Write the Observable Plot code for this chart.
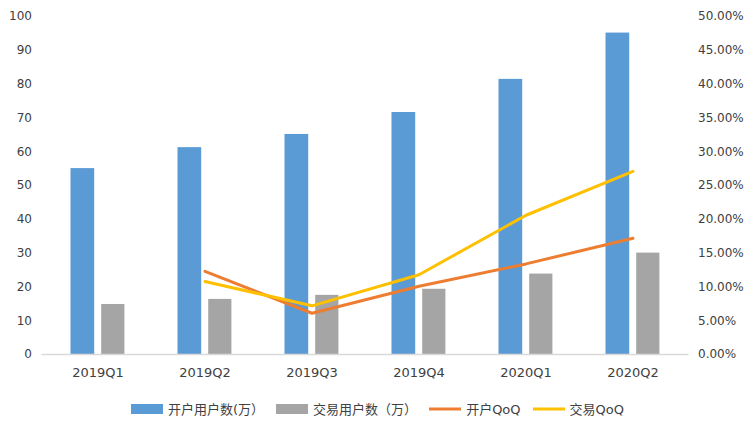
<!DOCTYPE html>
<html><head><meta charset="utf-8">
<script src="https://cdn.jsdelivr.net/npm/d3@7"></script>
<script src="https://cdn.jsdelivr.net/npm/@observablehq/plot@0.6"></script>
<style>
body{margin:0;background:#fff;font-family:"DejaVu Sans","Noto Sans CJK SC",sans-serif;}
#wrap{position:relative;width:755px;height:425px;}
#legend{position:absolute;left:0;top:399px;width:755px;display:flex;justify-content:center;align-items:center;gap:12px;font-size:13px;color:#404040;}
.it{display:flex;align-items:center;gap:5px;}
</style></head>
<body><div id="wrap"><div id="chart"></div><div id="legend"></div></div>
<script>
const quarters = ["2019Q1","2019Q2","2019Q3","2019Q4","2020Q1","2020Q2"];
const openUsers = [55, 61.2, 65.1, 71.6, 81.4, 95.1];
const tradeUsers = [14.8, 16.3, 17.5, 19.3, 23.8, 30];
const openQoQ = [null, 12.3, 6.1, 10.1, 13.4, 17.2];
const tradeQoQ = [null, 10.8, 7.2, 11.8, 20.6, 27.1];
const leftTicks = [0,10,20,30,40,50,60,70,80,90,100];
const seriesNames = ["开户用户数(万）","交易用户数（万）","开户QoQ","交易QoQ"];
const colors = ["#5b9bd5","#a5a5a5","#ed7d31","#ffc000"];

const rows = quarters.map((q,i)=>({q, open:openUsers[i], trade:tradeUsers[i], oq:openQoQ[i], tq:tradeQoQ[i]}));
const qoqRows = rows.filter(d=>d.oq!=null);

const chart = Plot.plot({
  width:755, height:385,
  marginLeft:41.5, marginRight:66.5, marginTop:16, marginBottom:31,
  x:{domain:quarters, padding:0, label:null},
  y:{domain:[0,100], label:null},
  style:{fontFamily:'"DejaVu Sans","Noto Sans CJK SC",sans-serif', fontSize:"12px", color:"#404040", background:"#fff"},
  marks:[
    Plot.barY(rows,{x:"q", y:"open", fill:colors[0], insetLeft:26.5, insetRight:56.8}),
    Plot.barY(rows,{x:"q", y:"trade", fill:colors[1], insetLeft:57.2, insetRight:26.6}),
    Plot.ruleY([0],{stroke:"#d9d9d9", strokeWidth:1.5}),
    Plot.axisY({ticks:leftTicks, tickSize:0, tickPadding:10, label:null}),
    Plot.axisY({anchor:"right", ticks:leftTicks, tickFormat:d=>(d/2).toFixed(2)+"%", tickSize:0, tickPadding:9, textAnchor:"start", label:null}),
    Plot.axisX({tickSize:0, tickPadding:13, fontSize:13, label:null}),
    Plot.lineY(qoqRows,{x:"q", y:d=>d.oq*2, stroke:colors[2], strokeWidth:3}),
    Plot.lineY(qoqRows,{x:"q", y:d=>d.tq*2, stroke:colors[3], strokeWidth:3})
  ]
});
document.getElementById("chart").appendChild(chart);

const lg = document.getElementById("legend");
seriesNames.forEach((n,i)=>{
  const it = document.createElement("div"); it.className="it";
  const sw = i<2 ? `<svg width="32" height="10"><rect width="32" height="10" fill="${colors[i]}"/></svg>`
                 : `<svg width="32" height="10"><line x1="0" x2="32" y1="5" y2="5" stroke="${colors[i]}" stroke-width="3"/></svg>`;
  it.innerHTML = sw + `<span>${n}</span>`;
  lg.appendChild(it);
});
</script></body></html>
